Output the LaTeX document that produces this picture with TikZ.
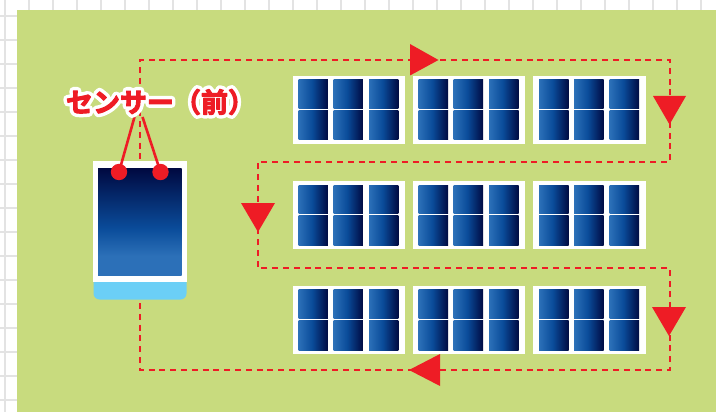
\documentclass[tikz,border=0pt]{standalone}
\usepackage{fontspec}
\newfontfamily\cjkbold{Noto Sans CJK JP Bold}
\definecolor{fieldgreen}{HTML}{C8DB7E}
\definecolor{gridgrey}{HTML}{E3E3E3}
\definecolor{mark}{HTML}{EE1C25}
\definecolor{skyblue}{HTML}{6BCFF6}
\definecolor{cellA}{HTML}{2C70B8}
\definecolor{cellB}{HTML}{0A4C9A}
\definecolor{cellC}{HTML}{000A42}
\pgfdeclarehorizontalshading{cellshade}{100bp}{color(0bp)=(cellA); color(25bp)=(cellA); color(48bp)=(cellB); color(75bp)=(cellC); color(100bp)=(cellC)}
\pgfdeclareverticalshading{sensorshade}{100bp}{color(0bp)=(cellA); color(25bp)=(cellA); color(34bp)=(cellA); color(47bp)=(cellB); color(75bp)=(cellC); color(100bp)=(cellC)}
\newcommand\labeltext{センサー（前）}
\newcommand\strokedlabel[2]{\special{pdf:code q 2 Tr #2 w 1 j #1 RG #1 rg}\labeltext\special{pdf:code 0 Tr Q}}
\tikzset{
  route/.style={draw=mark,line width=2.2pt,dash pattern=on 6pt off 4.8pt},
  arrowtri/.style={fill=mark,draw=none},
  wire/.style={draw=mark,line width=2.6pt},
  dot/.style={fill=mark,draw=none},
  panel/.style={fill=white,draw=none},
  cell/.style={shading=cellshade,draw=none},
}
\begin{document}
\begin{tikzpicture}[x=1pt,y=-1pt]
\useasboundingbox (0,0) rectangle (716,412);
\fill[white] (0,0) rectangle (716,412);
\foreach \k in {0,...,29} \draw[gridgrey,line width=2pt] ({5+24*\k},0) -- ({5+24*\k},412);
\foreach \k in {0,...,16} \draw[gridgrey,line width=2pt] (0,{16+24*\k}) -- (716,{16+24*\k});
\fill[fieldgreen] (17,10) rectangle (716,412);
% route
\coordinate (r0) at (140,303);
\coordinate (r1) at (140,370);
\coordinate (r2) at (670,370);
\coordinate (r3) at (670,268);
\coordinate (r4) at (258,268);
\coordinate (r5) at (258,162);
\coordinate (r6) at (670,162);
\coordinate (r7) at (670,60);
\coordinate (r8) at (140,60);
\coordinate (r9) at (140,161);
\draw[route] (r0) -- (r1) -- (r2) -- (r3) -- (r4) -- (r5) -- (r6) -- (r7) -- (r8) -- (r9);
% panels
\foreach \y/\ya/\yb/\yc/\yd in {76/80/108.6/110.8/140, 181/185/213.6/215.8/245, 286/289/318.6/320.2/350}{
  \foreach \x in {292.5,412.7,533.2}{
    \fill[panel] (\x,\y) rectangle ++(112.3,68);
    \foreach \c/\w in {6/29.4,41/29.4,76.5/29.4}{
      \path[cell] ({\x+\c},\ya) rectangle ({\x+\c+\w},\yb);
      \path[cell] ({\x+\c},\yc) rectangle ({\x+\c+\w},\yd);
    }
  }
}
% arrows
\fill[arrowtri] (410,44) -- (438.5,60) -- (410,75.5) -- cycle;
\fill[arrowtri] (653,96) -- (686,96) -- (669.5,124.5) -- cycle;
\fill[arrowtri] (241,203) -- (275,203) -- (258,232) -- cycle;
\fill[arrowtri] (652,307) -- (686,307) -- (669,336) -- cycle;
\fill[arrowtri] (440,354) -- (409,370) -- (440,386) -- cycle;
% sensor
\fill[skyblue,rounded corners=6pt] (93.5,270) rectangle (186.5,299.5);
\fill[white] (93,161) rectangle (187.3,282);
\path[shading=sensorshade] (98,169) rectangle (181.5,275);
% callout
\coordinate (w1) at (134.5,117);
\coordinate (w2) at (142.5,117);
\path[dot] (119,172) circle[radius=8.2pt] coordinate (d1);
\path[dot] (160.5,172) circle[radius=8.2pt] coordinate (d2);
\draw[wire] (w1) -- (d1);
\draw[wire] (w2) -- (d2);
\node[inner sep=0pt,font=\cjkbold\fontsize{27}{27}\selectfont] (label) at (160.5,102)
  {\rlap{\strokedlabel{1 1 1}{8}}\strokedlabel{.933 .11 .145}{1}};
\end{tikzpicture}
\end{document}
